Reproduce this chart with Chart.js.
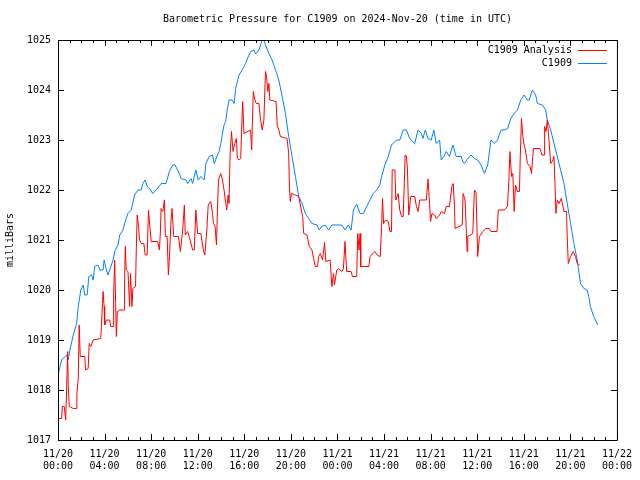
<!DOCTYPE html>
<html>
<head>
<meta charset="utf-8">
<script src="https://cdn.jsdelivr.net/npm/chart.js@4/dist/chart.umd.min.js"></script>
<style>
  html, body { margin: 0; padding: 0; background: #fff; }
</style>
</head>
<body>
<canvas id="pressChart" width="640" height="480"></canvas>
<script>
// ================= DATA =================
const chartTitle = "Barometric Pressure for C1909 on 2024-Nov-20 (time in UTC)";
const yAxisTitle = "milliBars";
const dayLabels = ["11/20", "11/21", "11/22"];

// hours since 11/20 00:00 UTC
const stationHours = [0.03,0.31,0.74,0.88,1.02,1.31,1.6,1.74,1.96,2.16,2.3,2.5,2.65,2.88,3.02,3.16,3.45,3.59,3.87,3.96,4.16,4.3,4.44,4.73,4.87,5.15,5.3,5.58,5.72,6.0,6.29,6.58,6.86,7.15,7.29,7.49,7.66,7.86,8.14,8.43,8.86,9.28,9.56,9.85,10.05,10.42,10.56,10.99,11.13,11.42,11.56,11.84,12.04,12.27,12.56,12.7,12.98,13.27,13.41,13.7,13.84,13.98,14.12,14.26,14.4,14.55,14.69,14.97,15.12,15.26,15.4,15.55,15.83,16.1,16.4,16.55,16.83,16.97,17.25,17.54,17.68,17.82,18.11,18.39,18.68,18.96,19.25,19.53,19.81,20.1,20.39,20.67,20.96,21.24,21.53,21.81,22.24,22.44,22.66,22.95,23.23,23.52,24.37,24.65,24.93,25.17,25.37,25.65,25.94,26.22,26.51,26.79,27.07,27.36,27.64,27.79,28.07,28.36,28.64,29.07,29.35,29.64,29.92,30.2,30.63,30.92,31.2,31.34,31.54,31.77,32.05,32.28,32.48,32.77,32.91,33.14,33.34,33.62,33.91,34.19,34.62,34.76,34.9,35.19,35.47,35.76,36.04,36.33,36.61,36.9,37.18,37.47,37.75,38.04,38.32,38.61,38.89,39.17,39.46,39.74,40.03,40.31,40.46,40.74,41.02,41.17,41.6,41.88,42.02,42.31,42.59,42.88,43.16,43.45,43.73,44.02,44.3,44.59,44.87,45.16,45.44,45.58,45.72,46.0,46.35];
const stationPress = [1018.33,1018.6,1018.7,1018.6,1018.8,1019.1,1019.33,1019.67,1020.0,1020.1,1019.9,1019.9,1020.27,1020.3,1020.2,1020.47,1020.5,1020.4,1020.4,1020.6,1020.4,1020.3,1020.4,1020.6,1020.77,1020.9,1021.1,1021.2,1021.33,1021.53,1021.6,1021.9,1022.0,1022.0,1022.13,1022.2,1022.07,1022.03,1021.93,1022.0,1022.13,1022.13,1022.37,1022.5,1022.5,1022.33,1022.23,1022.2,1022.13,1022.23,1022.13,1022.4,1022.2,1022.27,1022.2,1022.53,1022.67,1022.7,1022.53,1022.7,1022.77,1022.93,1023.13,1023.3,1023.37,1023.63,1023.8,1023.8,1023.73,1024.03,1024.17,1024.3,1024.41,1024.53,1024.7,1024.77,1024.8,1024.72,1024.8,1025.0,1025.0,1024.9,1024.73,1024.6,1024.4,1024.2,1023.87,1023.53,1023.07,1022.67,1022.27,1021.87,1021.73,1021.53,1021.43,1021.33,1021.3,1021.2,1021.27,1021.3,1021.2,1021.3,1021.3,1021.2,1021.3,1021.2,1021.6,1021.72,1021.53,1021.53,1021.67,1021.8,1021.93,1022.0,1022.1,1022.27,1022.5,1022.67,1022.9,1023.0,1023.0,1023.2,1023.2,1023.03,1022.93,1023.2,1023.13,1023.03,1023.2,1023.03,1023.0,1023.2,1022.93,1023.0,1022.6,1022.67,1022.77,1022.67,1022.9,1022.67,1022.67,1022.57,1022.53,1022.63,1022.7,1022.63,1022.6,1022.5,1022.33,1022.5,1023.0,1022.93,1023.0,1023.2,1023.2,1023.23,1023.43,1023.53,1023.6,1023.8,1023.9,1023.8,1023.8,1024.0,1023.9,1023.73,1023.7,1023.6,1023.4,1023.2,1022.93,1022.67,1022.4,1022.13,1021.73,1021.33,1020.93,1020.6,1020.13,1020.03,1020.0,1019.87,1019.67,1019.47,1019.3];

const analysisHours = [0.03,0.31,0.37,0.54,0.66,0.74,0.83,0.88,0.97,1.31,1.6,1.62,1.74,1.82,1.91,2.31,2.36,2.59,2.68,2.82,3.02,3.67,3.73,3.82,3.87,3.96,4.01,4.16,4.44,4.53,4.73,4.78,4.87,4.95,5.01,5.1,5.3,5.67,5.72,5.78,5.86,6.01,6.15,6.23,6.35,6.43,6.66,6.72,6.8,6.92,7.0,7.15,7.37,7.49,7.66,7.77,7.89,8.0,8.57,8.71,8.8,8.85,9.0,9.14,9.22,9.37,9.48,9.57,9.71,9.79,9.94,10.34,10.51,10.71,10.85,10.93,11.13,11.27,11.56,11.7,11.84,11.99,12.27,12.5,12.61,12.78,12.9,13.12,13.27,13.35,13.49,13.61,13.69,13.78,13.98,14.12,14.26,14.41,14.49,14.61,14.69,14.78,14.9,15.03,15.18,15.32,15.4,15.55,15.69,15.77,15.86,15.97,16.54,16.63,16.77,16.91,17.03,17.25,17.4,17.54,17.68,17.82,17.91,18.02,18.11,18.19,18.73,18.82,18.96,19.1,19.67,19.81,19.87,19.95,20.04,20.39,20.67,20.81,21.01,21.1,21.38,21.58,21.81,21.95,22.09,22.29,22.38,22.52,22.72,22.89,23.0,23.37,23.52,23.66,23.74,23.94,24.08,24.37,24.51,24.65,24.79,25.17,25.28,25.65,25.74,25.85,25.94,26.0,26.7,26.79,27.22,27.44,27.67,27.79,27.87,27.96,28.13,28.36,28.5,28.64,28.7,28.93,29.01,29.21,29.35,29.5,29.64,29.72,29.81,29.92,30.01,30.12,30.29,30.63,30.78,30.92,31.06,31.63,31.77,31.91,31.99,32.11,32.34,32.48,32.77,32.91,33.19,33.34,33.62,33.82,33.94,34.05,34.1,34.71,34.79,34.96,35.07,35.13,35.19,35.62,35.76,35.9,36.04,36.19,36.47,36.75,37.04,37.18,37.7,37.81,38.32,38.6,38.72,38.81,38.95,39.06,39.17,39.29,39.46,39.63,39.69,39.8,39.92,40.03,40.14,40.31,40.54,40.66,40.83,41.39,41.56,41.74,41.79,41.91,42.02,42.16,42.31,42.45,42.59,42.68,42.76,42.88,43.02,43.22,43.45,43.67,43.73,43.82,44.02,44.24,44.44,44.59,44.79];
const analysisPress = [1017.43,1017.43,1017.67,1017.67,1017.4,1018.0,1018.77,1018.07,1017.67,1017.63,1017.63,1017.93,1018.23,1019.3,1018.67,1018.67,1018.4,1018.43,1018.93,1018.87,1019.0,1019.03,1019.27,1019.73,1019.97,1019.67,1019.3,1019.4,1019.4,1019.27,1019.27,1019.93,1020.6,1019.73,1019.07,1019.57,1019.6,1019.6,1020.23,1020.87,1020.4,1020.37,1019.67,1020.33,1019.67,1020.03,1020.07,1020.8,1021.5,1021.27,1021.0,1020.93,1020.93,1020.7,1020.7,1021.6,1021.27,1020.97,1020.97,1020.8,1021.2,1021.63,1021.57,1021.8,1021.07,1021.07,1020.3,1020.67,1021.4,1021.63,1021.07,1021.07,1020.77,1021.2,1021.7,1021.1,1021.17,1021.07,1020.8,1020.8,1021.6,1021.13,1021.13,1020.77,1020.7,1021.2,1021.7,1021.77,1021.53,1021.33,1021.27,1020.9,1021.57,1022.2,1022.33,1022.2,1022.0,1021.73,1021.6,1021.9,1021.73,1022.73,1023.17,1022.77,1022.93,1023.03,1022.63,1022.6,1022.63,1023.2,1023.77,1023.13,1023.2,1022.8,1023.97,1023.8,1023.73,1023.73,1023.4,1023.2,1023.4,1024.37,1024.27,1023.97,1024.13,1023.8,1023.77,1023.3,1023.2,1023.07,1023.03,1022.73,1022.1,1021.77,1021.93,1021.9,1021.87,1021.7,1021.47,1021.13,1021.1,1020.87,1020.8,1020.63,1020.47,1020.47,1020.67,1020.73,1020.6,1020.95,1020.57,1020.6,1020.07,1020.33,1020.1,1020.4,1020.43,1020.37,1020.43,1020.97,1020.37,1020.37,1020.27,1020.27,1021.13,1020.8,1021.13,1020.47,1020.47,1020.67,1020.77,1020.69,1020.67,1021.27,1021.83,1021.33,1021.4,1021.37,1021.17,1021.17,1022.4,1022.4,1021.8,1021.93,1021.6,1021.47,1021.47,1022.0,1022.7,1022.68,1022.4,1021.5,1021.87,1021.87,1021.67,1021.57,1021.8,1021.8,1022.22,1021.73,1021.37,1021.53,1021.5,1021.43,1021.5,1021.57,1021.53,1021.67,1021.67,1022.07,1022.13,1021.67,1021.23,1021.3,1021.93,1021.8,1021.13,1020.77,1021.07,1021.13,1022.0,1021.95,1020.67,1021.07,1021.17,1021.23,1021.23,1021.17,1021.17,1021.6,1021.6,1021.67,1022.2,1022.77,1022.27,1022.33,1021.57,1022.1,1021.97,1021.97,1022.6,1023.43,1023.07,1022.9,1022.8,1022.53,1022.47,1022.33,1022.83,1022.83,1022.7,1022.7,1023.27,1023.17,1023.4,1023.0,1022.53,1022.57,1022.67,1022.13,1021.53,1021.8,1021.73,1021.83,1021.57,1021.57,1021.07,1020.53,1020.67,1020.77,1020.67,1020.53,1020.5];

const toPoints = (hrs, vals) => hrs.map((h, i) => ({ x: h, y: vals[i] }));

Chart.defaults.font.family = "'DejaVu Sans Mono', 'Liberation Mono', monospace";
Chart.defaults.font.size = 10;
Chart.defaults.color = "#000";

// gnuplot style frame, inward ticks, title and legend
const gnuFrame = {
  id: "gnuFrame",
  afterDraw(chart) {
    const { ctx, chartArea: a, scales: { x, y } } = chart;
    ctx.save();
    ctx.strokeStyle = "#000";
    ctx.lineWidth = 1;
    ctx.beginPath();
    ctx.rect(a.left + 0.5, a.top + 0.5, a.right - a.left, a.bottom - a.top);
    for (let h = x.min; h <= x.max; h++) {
      const px = Math.round(x.getPixelForValue(h)) + 0.5;
      const len = h % 4 === 0 ? 6 : 3;
      ctx.moveTo(px, a.bottom); ctx.lineTo(px, a.bottom - len);
      ctx.moveTo(px, a.top); ctx.lineTo(px, a.top + len);
    }
    y.ticks.forEach(t => {
      const py = Math.round(y.getPixelForValue(t.value)) + 0.5;
      ctx.moveTo(a.left, py); ctx.lineTo(a.left + 6, py);
      ctx.moveTo(a.right, py); ctx.lineTo(a.right - 6, py);
    });
    ctx.stroke();

    ctx.fillStyle = "#000";
    ctx.font = "10px 'DejaVu Sans Mono', monospace";
    ctx.textAlign = "center";
    ctx.textBaseline = "middle";
    ctx.fillText(chartTitle, (a.left + a.right) / 2, 19);

    // legend, top right inside plot
    ctx.textAlign = "right";
    chart.data.datasets.forEach((ds, i) => {
      const ly = a.top + 10 + i * 13;
      ctx.fillStyle = "#000";
      ctx.fillText(ds.label, a.right - 45, ly);
      ctx.strokeStyle = ds.borderColor;
      ctx.beginPath();
      ctx.moveTo(a.right - 39, ly + 0.5);
      ctx.lineTo(a.right - 10, ly + 0.5);
      ctx.stroke();
    });
    ctx.restore();
  }
};

const ctx = document.getElementById("pressChart").getContext("2d");

window.pressChart = new Chart(ctx, {
  type: "line",
  data: {
    datasets: [
      {
        label: "C1909 Analysis",
        data: toPoints(analysisHours, analysisPress),
        borderColor: "rgb(255,0,0)",
        borderWidth: 1,
        pointRadius: 0,
        tension: 0,
        fill: false
      },
      {
        label: "C1909",
        data: toPoints(stationHours, stationPress),
        borderColor: "rgb(0,128,255)",
        borderWidth: 1,
        pointRadius: 0,
        tension: 0,
        fill: false
      }
    ]
  },
  options: {
    responsive: false,
    animation: false,
    events: [],
    layout: { padding: { top: 40, right: 20, left: 0, bottom: 0 } },
    plugins: {
      legend: { display: false },
      title: { display: false },
      tooltip: { enabled: false }
    },
    scales: {
      x: {
        type: "linear",
        min: 0,
        max: 48,
        grid: { display: false, drawTicks: false },
        border: { display: false },
        ticks: {
          stepSize: 4,
          autoSkip: false,
          maxRotation: 0,
          padding: 8,
          callback: v => [dayLabels[Math.floor(v / 24)], String(v % 24).padStart(2, "0") + ":00"]
        },
        afterFit: s => { s.height = 40; }
      },
      y: {
        min: 1017,
        max: 1025,
        grid: { display: false, drawTicks: false },
        border: { display: false },
        ticks: { stepSize: 1, padding: 7, callback: v => v },
        title: { display: true, text: yAxisTitle, padding: 4 },
        afterFit: s => { s.width = 58; }
      }
    }
  },
  plugins: [gnuFrame]
});
</script>
</body>
</html>
